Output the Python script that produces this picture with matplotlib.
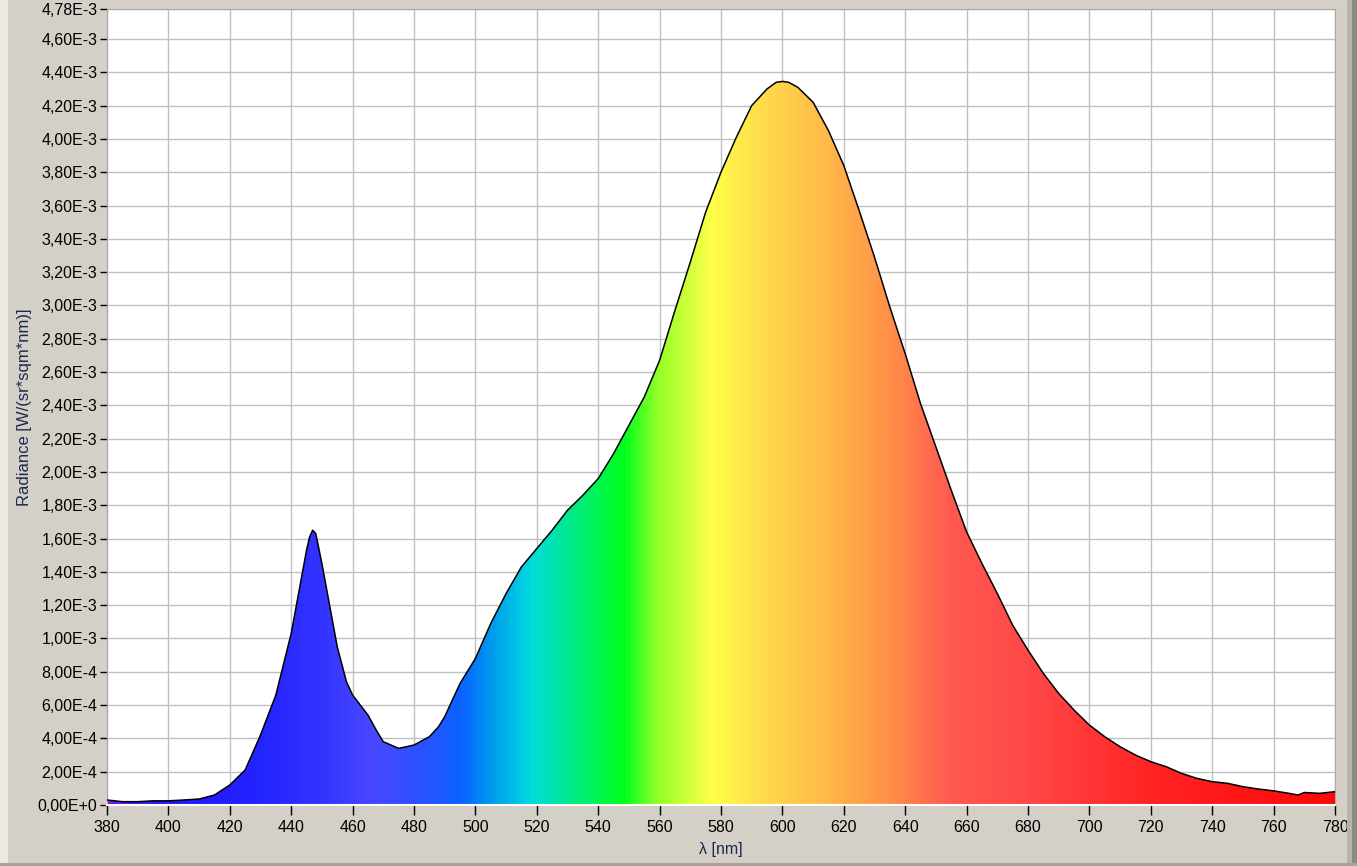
import numpy as np
import matplotlib.pyplot as plt
from matplotlib.colors import LinearSegmentedColormap
from matplotlib.patches import Rectangle

plt.rcParams['font.family'] = ['Liberation Sans', 'DejaVu Sans']

# spectrum (wavelength in nm, radiance in 1E-3 W/(sr*sqm*nm))
wavelength = [380, 385, 390, 395, 400, 405, 410, 415, 420, 425, 430, 435, 440, 443,
              445, 446, 447, 448, 450, 452, 455, 458, 460, 465, 468, 470, 475, 480,
              485, 488, 490, 495, 500, 505, 510, 515, 520, 525, 530, 535, 540, 545,
              550, 555, 560, 565, 570, 575, 580, 585, 590, 595, 598, 600, 602, 605,
              610, 615, 620, 625, 630, 635, 640, 645, 650, 655, 660, 665, 670, 675,
              680, 685, 690, 695, 700, 705, 710, 715, 720, 725, 730, 735, 740, 745,
              750, 755, 760, 765, 768, 770, 775, 780]
radiance = [0.03, 0.02, 0.02, 0.025, 0.025, 0.03, 0.036, 0.06, 0.12, 0.21, 0.42, 0.66,
            1.03, 1.33, 1.53, 1.61, 1.65, 1.63, 1.45, 1.25, 0.95, 0.74, 0.66, 0.54,
            0.44, 0.38, 0.34, 0.36, 0.41, 0.47, 0.53, 0.73, 0.88, 1.09, 1.27, 1.43,
            1.54, 1.65, 1.77, 1.86, 1.96, 2.11, 2.28, 2.45, 2.67, 2.97, 3.26, 3.56,
            3.80, 4.01, 4.20, 4.30, 4.34, 4.345, 4.34, 4.31, 4.22, 4.05, 3.84, 3.57,
            3.29, 2.99, 2.71, 2.41, 2.15, 1.89, 1.64, 1.45, 1.27, 1.08, 0.93, 0.79,
            0.67, 0.57, 0.48, 0.41, 0.35, 0.30, 0.26, 0.23, 0.19, 0.16, 0.14, 0.13,
            0.11, 0.096, 0.085, 0.07, 0.06, 0.075, 0.07, 0.08]

ytick_values = [0, 0.2, 0.4, 0.6, 0.8, 1.0, 1.2, 1.4, 1.6, 1.8, 2.0, 2.2, 2.4, 2.6,
                2.8, 3.0, 3.2, 3.4, 3.6, 3.8, 4.0, 4.2, 4.4, 4.6, 4.78]
ytick_labels = ['0,00E+0', '2,00E-4', '4,00E-4', '6,00E-4', '8,00E-4', '1,00E-3',
                '1,20E-3', '1,40E-3', '1,60E-3', '1,80E-3', '2,00E-3', '2,20E-3',
                '2,40E-3', '2,60E-3', '2,80E-3', '3,00E-3', '3,20E-3', '3,40E-3',
                '3,60E-3', '3,80E-3', '4,00E-3', '4,20E-3', '4,40E-3', '4,60E-3',
                '4,78E-3']
xtick_values = list(range(380, 781, 20))

# colour of the fill along the spectrum
spectrum_colors = [(380, '#7414ee'), (388, '#3a18fb'), (400, '#2018ff'), (430, '#2424ff'),
                   (450, '#3434ff'), (466, '#4848ff'), (482, '#2a52ff'), (495, '#0c62ff'),
                   (503, '#0090f0'), (518, '#00dcdc'), (530, '#00e890'), (548, '#00ff1e'),
                   (560, '#98ff28'), (577, '#ffff48'), (595, '#ffd84c'), (615, '#ffb848'),
                   (635, '#ff9048'), (655, '#ff5a50'), (680, '#ff4848'), (720, '#ff2424'),
                   (780, '#ff0808')]

fig = plt.figure(figsize=(13.57, 8.66), dpi=100, facecolor='#d4d0c8')
ax = fig.add_axes([107 / 1357, 1 - 805 / 866, 1228 / 1357, 796 / 866])

cmap = LinearSegmentedColormap.from_list(
    'spec', [((w - 380) / 400, c) for w, c in spectrum_colors])
grad = np.linspace(0, 1, 800).reshape(1, -1)
img = ax.imshow(grad, cmap=cmap, aspect='auto', extent=[380, 780, 0, 4.78],
                origin='lower', zorder=2, interpolation='bilinear')
poly = ax.fill_between(wavelength, radiance, 0, facecolor='none', edgecolor='none', zorder=2)
clip = poly.get_paths()[0]
img.set_clip_path(clip, transform=ax.transData)
ax.plot(wavelength, radiance, color='black', lw=1.1, zorder=3)

ax.set_xlim(380, 780)
ax.set_ylim(0, 4.78)
ax.set_xticks(xtick_values)
ax.set_yticks(ytick_values)
ax.set_yticklabels(ytick_labels)
ax.grid(True, color='#c0c0c0', lw=1.0, zorder=1)
ax.set_axisbelow(True)
ax.tick_params(axis='both', direction='out', length=5, width=1, color='black',
               labelsize=11.5, labelcolor='black', pad=2)
ax.tick_params(axis='x', length=7, pad=4)
for side in ['left', 'top', 'right']:
    ax.spines[side].set_color('#a8a8a8')
ax.spines['bottom'].set_color('white')
ax.spines['bottom'].set_linewidth(1.5)

ax.set_xlabel('λ [nm]', fontsize=11.5, color='#1c2850', labelpad=5)
ax.set_ylabel('Radiance [W/(sr*sqm*nm)]', fontsize=12, color='#1c2850', labelpad=4)

# window frame
fig.patches.append(Rectangle((0, 0), 8 / 1357, 1, transform=fig.transFigure,
                             facecolor='#ece9e0', edgecolor='none', zorder=0))
fig.patches.append(Rectangle((1347 / 1357, 0), 10 / 1357, 1, transform=fig.transFigure,
                             facecolor='#b8b4ac', edgecolor='none', zorder=0))
fig.patches.append(Rectangle((1352 / 1357, 0), 5 / 1357, 1, transform=fig.transFigure,
                             facecolor='#8c8a84', edgecolor='none', zorder=0))
fig.patches.append(Rectangle((0, 0), 1, 3 / 866, transform=fig.transFigure,
                             facecolor='#a8a49c', edgecolor='none', zorder=0))

fig.savefig('out.png', dpi=100, facecolor=fig.get_facecolor())
